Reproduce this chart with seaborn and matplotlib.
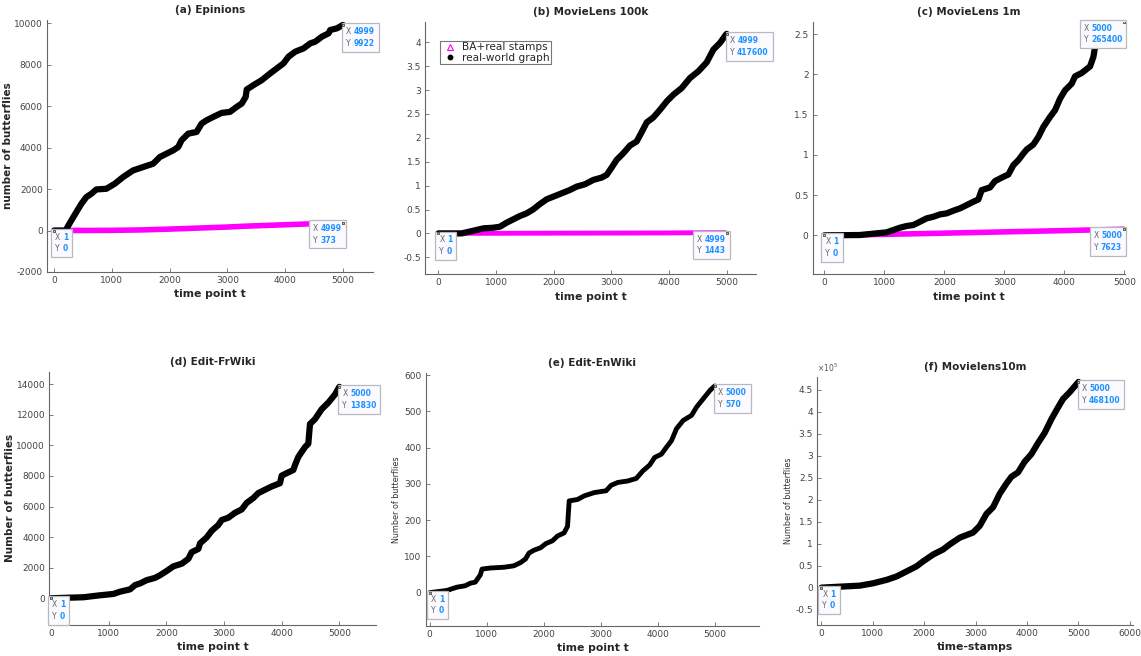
import numpy as np
import pandas as pd
import matplotlib
matplotlib.use("Agg")
import matplotlib.pyplot as plt
import seaborn as sns
from matplotlib.lines import Line2D
from matplotlib.offsetbox import TextArea, HPacker, VPacker, AnnotationBbox
from matplotlib.ticker import FuncFormatter, MultipleLocator

# ---------------- data ----------------
a_t = [1,200,300,387,474,560,647,734,907,1052,1196,1370,1543,1717,1832,1948,2064,2150,2208,2324,2468,2555,2642,2757,2902,3046,3162,3249,3318,3335,3451,3595,3740,3855,3971,4058,4173,4318,4434,4520,4636,4751,4780,4896,4999]
a_real = [0,0,484,887,1290,1613,1774,1984,2016,2258,2580,2903,3065,3226,3548,3710,3871,4032,4355,4677,4758,5161,5323,5484,5677,5726,5968,6129,6452,6806,7016,7258,7581,7823,8065,8387,8629,8790,9032,9113,9355,9516,9677,9758,9922]
a_ba_t = [1,1000,1500,2000,2500,3000,3300,4000,4500,4999]
a_ba = [0,10,30,70,120,170,210,280,330,373]

b_t = [1,405,607,780,954,1069,1185,1300,1416,1532,1647,1763,1879,1994,2139,2283,2399,2543,2688,2832,2919,3006,3092,3208,3324,3439,3526,3613,3728,3844,3960,4075,4220,4364,4509,4653,4769,4884,4988,4999]
b_real = [0,0,5600,10500,11900,14000,22400,29400,36400,42000,50300,61500,71300,76900,83900,90900,97900,102800,111900,116800,122400,137800,153800,167800,183900,192300,211900,232200,242700,258700,276200,290200,304200,325200,339200,358000,384600,398600,416100,417600]
b_ba_t = [1,1000,2000,3000,4000,4100,4999]
b_ba = [0,200,450,700,950,1150,1443]

c_t = [1,594,872,1039,1150,1261,1372,1483,1594,1706,1817,1928,2039,2150,2261,2372,2483,2567,2622,2761,2844,2983,3067,3150,3233,3317,3372,3483,3567,3650,3761,3844,3928,4011,4122,4178,4289,4428,4483,4511,4600,4750,4900,5000]
c_real = [0,400,2500,3700,6600,9500,11600,12800,16900,21100,23100,26000,27300,30600,33500,37600,41700,44600,56200,59500,67400,72700,75600,87200,93400,101700,106600,112800,122300,134700,147100,155400,169800,180200,188400,197500,201700,209900,221500,233900,242000,252000,260000,265400]
c_ba_t = [1,1000,2000,3000,4000,5000]
c_ba = [0,1200,2700,4300,5900,7623]

d_t = [1,561,850,1081,1197,1370,1457,1543,1659,1803,1890,2006,2121,2266,2382,2439,2555,2584,2699,2786,2902,2960,3075,3191,3306,3393,3509,3595,3711,3827,3971,4000,4116,4202,4231,4289,4405,4462,4491,4578,4694,4809,4925,5000]
d_real = [0,65,194,280,430,581,860,968,1183,1333,1505,1785,2086,2258,2581,3011,3226,3591,3978,4409,4796,5118,5269,5591,5806,6237,6559,6882,7097,7312,7527,8022,8237,8387,8710,9247,9892,10108,11398,11720,12366,12796,13333,13830]

e_t = [1,300,476,624,712,800,888,918,1065,1300,1476,1594,1682,1741,1829,1947,2035,2153,2241,2359,2418,2447,2594,2712,2888,3094,3182,3300,3476,3624,3741,3859,3947,4065,4153,4241,4329,4447,4594,4682,4800,4918,5000]
e_real = [0,6,15,19,26,29,49,65,68,70,74,83,93,109,117,124,135,143,156,165,183,253,257,267,276,281,296,304,308,315,336,352,373,382,401,419,452,475,489,512,535,558,570]

f_t = [1,751,1010,1269,1463,1657,1851,1981,2175,2369,2498,2693,2951,3081,3210,3340,3469,3599,3696,3825,3955,4084,4214,4343,4472,4602,4699,4828,5000]
f_real = [0,4600,10000,17700,25400,36900,48500,60000,75400,86900,98500,113800,125400,140800,167700,183100,213800,236900,252300,262300,286900,303800,329200,352300,383100,410000,429200,444600,468100]

titles = ["(a) Epinions", "(b) MovieLens 100k", "(c) MovieLens 1m",
          "(d) Edit-FrWiki", "(e) Edit-EnWiki", "(f) Movielens10m"]
legend_labels = ["BA+real stamps", "real-world graph"]

# ---------------- style ----------------
sns.set_style("ticks")
plt.rcParams['font.family'] = ['DejaVu Sans']
plt.rcParams['axes.unicode_minus'] = False

W, H = 1141, 656
fig = plt.figure(figsize=(W / 100, H / 100), dpi=100)

def add_ax(l, r, t, b):
    return fig.add_axes([l / W, 1 - b / H, (r - l) / W, (b - t) / H])

MAG = "#ff00ff"
BLUE = "#1e90ff"

def style(ax):
    for s in ["top", "right"]:
        ax.spines[s].set_visible(False)
    for s in ["left", "bottom"]:
        ax.spines[s].set_color("#666666")
        ax.spines[s].set_linewidth(0.8)
    ax.tick_params(direction="in", length=3, width=0.6, color="#666666",
                   labelsize=6.5, labelcolor="#444444", pad=3)

def datatip(ax, x, y, side="right", dx=3, dy=-2):
    def row(lbl, val):
        return HPacker(children=[
            TextArea(lbl, textprops=dict(color="#666666", fontsize=5.5)),
            TextArea(val, textprops=dict(color=BLUE, fontsize=5.5, fontweight="bold"))],
            align="baseline", pad=0, sep=2)
    vp = VPacker(children=[row("X", f"{x:g}"), row("Y", f"{y:g}")],
                 align="left", pad=0, sep=2)
    if side == "right":
        align = (0, 1)
        off = (dx * 0.72, dy * 0.72)
    else:
        align = (1, 1)
        off = (-dx * 0.72, dy * 0.72)
    ab = AnnotationBbox(vp, (x, y), xybox=off, xycoords="data",
                        boxcoords="offset points", box_alignment=align,
                        frameon=True, pad=0.28,
                        bboxprops=dict(edgecolor="#b8b8c0", facecolor="#fafaff",
                                       linewidth=0.9),
                        zorder=20)
    ax.add_artist(ab)
    ax.plot([x], [y], marker="s", ms=2.0, color="#222222", mfc="#d8d8a0",
            mew=0.5, zorder=21, ls="none")

def draw_real(ax, t, v, lw=4.5):
    df = pd.DataFrame({"t": t, "v": v})
    sns.lineplot(data=df, x="t", y="v", ax=ax, color="black", lw=lw,
                 solid_capstyle="round", solid_joinstyle="round", zorder=5)

def draw_ba(ax, t, v, lw=4):
    df = pd.DataFrame({"t": t, "v": v})
    sns.lineplot(data=df, x="t", y="v", ax=ax, color=MAG, lw=lw,
                 solid_capstyle="butt", zorder=4)

sci = FuncFormatter(lambda v, p: f"{v / 1e5:g}")

# (a)
ax = add_ax(47, 373, 20, 272)
draw_ba(ax, a_ba_t, a_ba)
draw_real(ax, a_t, a_real)
ax.set_xlim(-120, 5520); ax.set_ylim(-2000, 10160)
ax.xaxis.set_major_locator(MultipleLocator(1000))
ax.yaxis.set_major_locator(MultipleLocator(2000))
style(ax)
ax.set_ylabel("number of butterflies", fontsize=7.5, fontweight="bold")
ax.yaxis.set_label_coords(-0.104, 0.5)
datatip(ax, a_t[0], a_real[0], "right", 1, -2)
datatip(ax, a_t[-1], a_real[-1], "right", 3, -2)
datatip(ax, a_ba_t[-1], a_ba[-1], "left", 1, -1)

# (b)
ax = add_ax(425, 756, 21.7, 274.3)
draw_ba(ax, b_ba_t, b_ba, lw=3.5)
draw_real(ax, b_t, b_real)
ax.set_xlim(-230, 5508); ax.set_ylim(-85600, 443000)
ax.xaxis.set_major_locator(MultipleLocator(1000))
ax.yaxis.set_major_locator(MultipleLocator(50000))
ax.yaxis.set_major_formatter(sci)
style(ax)
ax.set_ylabel("")
datatip(ax, b_t[0], b_real[0], "right", 1, -2)
datatip(ax, b_t[-1], b_real[-1], "right", 3, -2)
datatip(ax, b_ba_t[-1], b_ba[-1], "left", 1, -2)
handles = [Line2D([], [], marker="^", mfc="none", mec=MAG, ls="none", ms=4.5, mew=0.8),
           Line2D([], [], marker="o", color="black", ls="none", ms=3.2)]
leg = ax.legend(handles, legend_labels, loc="upper left",
                bbox_to_anchor=(0.045, 0.925), fontsize=7.6, frameon=True,
                fancybox=False, edgecolor="#555555", borderpad=0.15,
                handletextpad=0.3, handlelength=1.6, labelspacing=0.05,
                borderaxespad=0)
leg.get_frame().set_linewidth(0.8)

# (c)
ax = add_ax(812.7, 1125, 21.7, 274.3)
draw_ba(ax, c_ba_t, c_ba)
draw_real(ax, c_t, c_real)
ax.set_xlim(-193, 5010); ax.set_ylim(-48400, 265400)
ax.xaxis.set_major_locator(MultipleLocator(1000))
ax.yaxis.set_major_locator(MultipleLocator(50000))
ax.yaxis.set_major_formatter(sci)
style(ax)
ax.set_ylabel("")
datatip(ax, c_t[0], c_real[0], "right", 1, -2)
datatip(ax, c_t[-1], c_real[-1], "left", 2, -2)
datatip(ax, c_ba_t[-1], c_ba[-1], "left", 2, -2)

# (d)
ax = add_ax(49.3, 376, 371.7, 625)
draw_real(ax, d_t, d_real)
ax.set_xlim(-30, 5636); ax.set_ylim(-1750, 14820)
ax.xaxis.set_major_locator(MultipleLocator(1000))
ax.yaxis.set_major_locator(MultipleLocator(2000))
style(ax)
ax.set_ylabel("Number of butterflies", fontsize=7.5, fontweight="bold")
ax.yaxis.set_label_coords(-0.105, 0.5)
datatip(ax, d_t[0], d_real[0], "right", 1, -2)
datatip(ax, d_t[-1], d_real[-1], "right", 3, -2)

# (e)
ax = add_ax(425.7, 759.3, 373.3, 626)
draw_real(ax, e_t, e_real, lw=3.5)
ax.set_xlim(-70, 5782); ax.set_ylim(-92, 605)
ax.xaxis.set_major_locator(MultipleLocator(1000))
ax.yaxis.set_major_locator(MultipleLocator(100))
style(ax)
ax.set_ylabel("Number of butterflies", fontsize=5.8, color="#333333")
ax.yaxis.set_label_coords(-0.074, 0.5)
datatip(ax, e_t[0], e_real[0], "right", 1, -2)
datatip(ax, e_t[-1], e_real[-1], "right", 3, -2)

# (f)
ax = add_ax(817.3, 1133, 376.7, 625)
draw_real(ax, f_t, f_real)
ax.set_xlim(-78, 6060); ax.set_ylim(-85000, 480000)
ax.xaxis.set_major_locator(MultipleLocator(1000))
ax.yaxis.set_major_locator(MultipleLocator(50000))
ax.yaxis.set_major_formatter(sci)
style(ax)
ax.set_ylabel("Number of butterflies", fontsize=5.8, color="#333333")
ax.yaxis.set_label_coords(-0.077, 0.5)
ax.text(0.0, 1.01, r"$\times10^5$", transform=ax.transAxes, fontsize=5.5,
        color="#555555", ha="left", va="bottom")
datatip(ax, f_t[0], f_real[0], "right", 1, -2)
datatip(ax, f_t[-1], f_real[-1], "right", 3, -2)

xlabels = ["time point t"] * 5 + ["time-stamps"]
for ax, ttl, xl in zip(fig.axes, titles, xlabels):
    ax.set_title(ttl, fontsize=7.5, fontweight="bold", pad=5)
    ax.set_xlabel(xl, fontsize=7.8, fontweight="bold", labelpad=3)

fig.savefig("out.png", dpi=100)
